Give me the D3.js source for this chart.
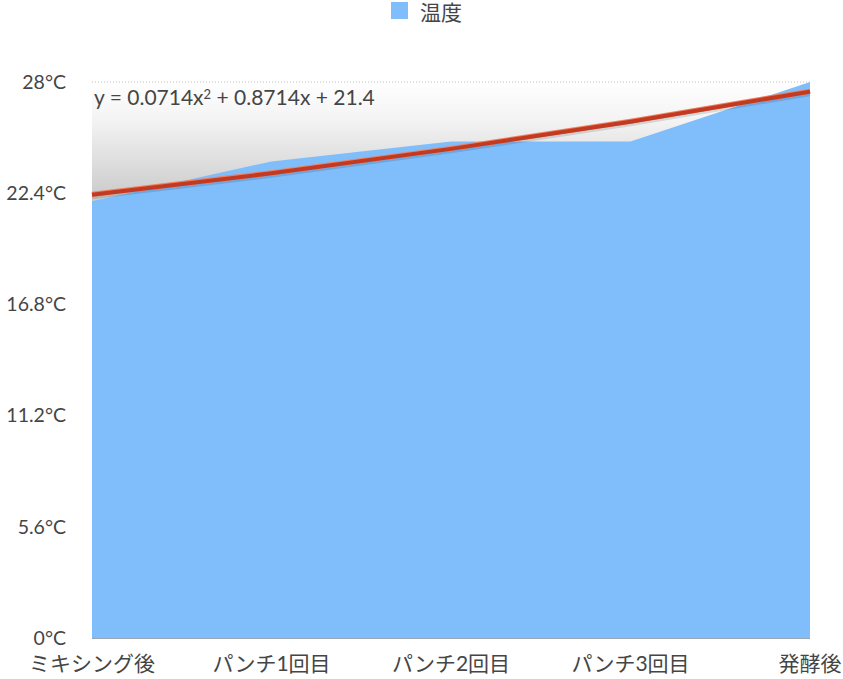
<!DOCTYPE html>
<html>
<head>
<meta charset="utf-8">
<script src="https://cdn.jsdelivr.net/npm/d3@7"></script>
<style>
  body { margin: 0; background: #fff; }
  text { font-family: Lato, "Noto Sans CJK JP", sans-serif; fill: #454545; }
</style>
</head>
<body>
<script>
var width = 843;
var height = 679;

// data
var categories = ["ミキシング後", "パンチ1回目", "パンチ2回目", "パンチ3回目", "発酵後"];
var temps = [22, 24, 25, 25, 28];
var yTicks = [0, 5.6, 11.2, 16.8, 22.4, 28];
var trendCoef = [0.0714, 0.8714, 21.4]; // a x^2 + b x + c, x = 1..5
var seriesName = "温度";

var margin = {left: 92, right: 33, top: 82, bottom: 41};

var svg = d3.select("body").append("svg")
    .attr("width", width)
    .attr("height", height);

var x = d3.scalePoint()
    .domain(categories)
    .range([margin.left, width - margin.right]);

var y = d3.scaleLinear()
    .domain([0, 28])
    .range([height - margin.bottom, margin.top]);

var defs = svg.append("defs");
var grad = defs.append("linearGradient")
    .attr("id", "bgGrad")
    .attr("gradientUnits", "userSpaceOnUse")
    .attr("x1", 0).attr("x2", 0)
    .attr("y1", y(28)).attr("y2", y(21.5));
grad.append("stop").attr("offset", "0%").attr("stop-color", "#ffffff");
grad.append("stop").attr("offset", "30%").attr("stop-color", "#f3f3f3");
grad.append("stop").attr("offset", "100%").attr("stop-color", "#c4c4c4");

// background gradient (visible above the area)
svg.append("rect")
    .attr("x", x.range()[0])
    .attr("y", y(28))
    .attr("width", x.range()[1] - x.range()[0])
    .attr("height", y(0) - y(28))
    .attr("fill", "url(#bgGrad)");

// top dotted gridline
svg.append("line")
    .attr("x1", x.range()[0]).attr("x2", x.range()[1])
    .attr("y1", y(28)).attr("y2", y(28))
    .attr("stroke", "#bbb")
    .attr("stroke-width", 1)
    .attr("stroke-dasharray", "1,2");

// area
var area = d3.area()
    .x(function(d, i) { return x(categories[i]); })
    .y0(y(0))
    .y1(function(d) { return y(d); });

svg.append("path")
    .datum(temps)
    .attr("d", area)
    .attr("fill", "#80bdfb");

// baseline
svg.append("line")
    .attr("x1", x.range()[0]).attr("x2", x.range()[1])
    .attr("y1", y(0) + 0.5).attr("y2", y(0) + 0.5)
    .attr("stroke", "#9aa6b4")
    .attr("stroke-width", 1);

// trend line
var trendVals = categories.map(function(c, i) {
    var t = i + 1;
    return trendCoef[0] * t * t + trendCoef[1] * t + trendCoef[2];
});
var line = d3.line()
    .x(function(d, i) { return x(categories[i]); })
    .y(function(d) { return y(d); })
    .curve(d3.curveNatural);

svg.append("path")
    .datum(trendVals)
    .attr("d", line)
    .attr("fill", "none")
    .attr("stroke", "#000")
    .attr("stroke-opacity", 0.12)
    .attr("stroke-width", 4)
    .attr("transform", "translate(0,3)");

svg.append("path")
    .datum(trendVals)
    .attr("d", line)
    .attr("fill", "none")
    .attr("stroke", "#f08060")
    .attr("stroke-width", 5);

svg.append("path")
    .datum(trendVals)
    .attr("d", line)
    .attr("fill", "none")
    .attr("stroke", "#c23a22")
    .attr("stroke-width", 4)
    .attr("transform", "translate(0,0.5)");

// equation
var eq = svg.append("text")
    .attr("x", margin.left + 2)
    .attr("y", 105)
    .attr("font-size", 21);
eq.append("tspan").text("y = " + trendCoef[0] + "x");
eq.append("tspan").attr("font-size", 13).attr("dy", -6).text("2");
eq.append("tspan").attr("dy", 6).text(" + " + trendCoef[1] + "x + " + trendCoef[2]);

// y axis labels
svg.selectAll(".ylab")
    .data(yTicks)
    .enter().append("text")
    .attr("class", "ylab")
    .attr("x", 66)
    .attr("y", function(d) { return y(d); })
    .attr("dy", "0.35em")
    .attr("text-anchor", "end")
    .attr("font-size", 19.5)
    .text(function(d) { return d + "°C"; });

// x axis labels
svg.selectAll(".xlab")
    .data(categories)
    .enter().append("text")
    .attr("class", "xlab")
    .attr("x", function(d) { return x(d); })
    .attr("y", 671)
    .attr("text-anchor", "middle")
    .attr("font-size", 21)
    .text(function(d) { return d; });

// legend
svg.append("rect")
    .attr("x", 391).attr("y", 2)
    .attr("width", 17).attr("height", 17)
    .attr("fill", "#80bdfb");
svg.append("text")
    .attr("x", 420).attr("y", 20)
    .attr("font-size", 21)
    .text(seriesName);
</script>
</body>
</html>
